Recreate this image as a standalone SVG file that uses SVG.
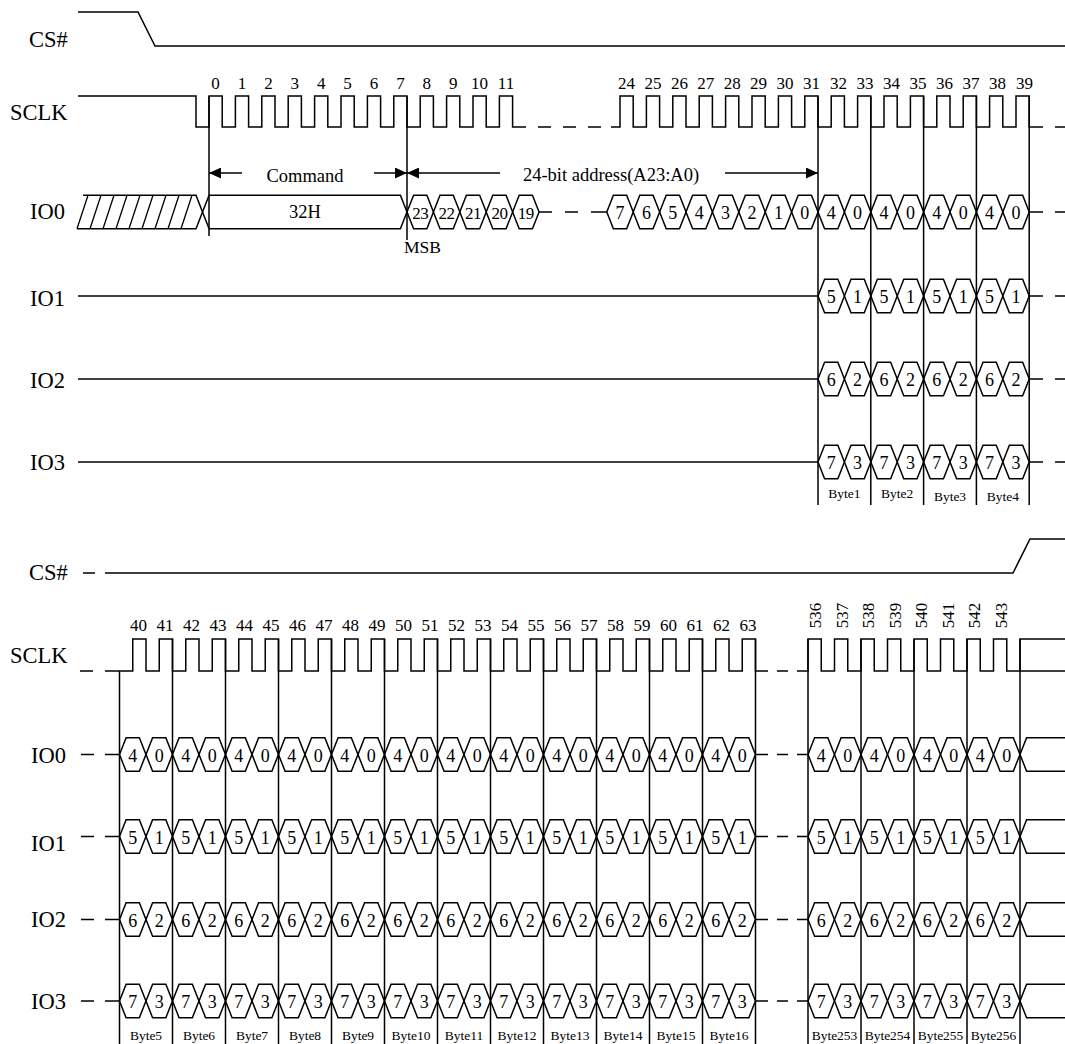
<svg xmlns="http://www.w3.org/2000/svg" xmlns:xlink="http://www.w3.org/1999/xlink" width="1065" height="1044" viewBox="0 0 1065 1044">
<style>
.s{fill:none;stroke:#000;stroke-width:1.5}
.t{font-family:"Liberation Serif","Times New Roman",serif;fill:#000}
.lb{font-size:22.5px}
.n{font-size:17px;text-anchor:middle}
.d{font-size:18px;text-anchor:middle}
.dd{font-size:17px;text-anchor:middle;letter-spacing:-0.5px}
.a{font-size:18.5px;text-anchor:middle}
.b{font-size:13.5px;text-anchor:middle}
</style>
<defs>
<path id="hx" class="s" d="M0,0 L6.6,-16.75 H19.85 L26.45,0 L19.85,16.75 H6.6 Z"/>
<marker id="arr" viewBox="0 0 12 11" refX="12" refY="5.5" markerWidth="12" markerHeight="11" markerUnits="userSpaceOnUse" orient="auto-start-reverse"><path d="M0,0 L12,5.5 L0,11 Z" fill="#000"/></marker>
<g id="rowT">
<use href="#hx" x="818"/><use href="#hx" x="844.4"/><use href="#hx" x="870.8"/><use href="#hx" x="897.2"/><use href="#hx" x="923.6"/><use href="#hx" x="950"/><use href="#hx" x="976.4"/><use href="#hx" x="1002.8"/>
</g>
<g id="rowL">
<use href="#hx" x="119.5"/><use href="#hx" x="146"/><use href="#hx" x="172.5"/><use href="#hx" x="199"/><use href="#hx" x="225.5"/><use href="#hx" x="252"/><use href="#hx" x="278.5"/><use href="#hx" x="305"/><use href="#hx" x="331.5"/><use href="#hx" x="358"/><use href="#hx" x="384.5"/><use href="#hx" x="411"/><use href="#hx" x="437.5"/><use href="#hx" x="464"/><use href="#hx" x="490.5"/><use href="#hx" x="517"/><use href="#hx" x="543.5"/><use href="#hx" x="570"/><use href="#hx" x="596.5"/><use href="#hx" x="623"/><use href="#hx" x="649.5"/><use href="#hx" x="676"/><use href="#hx" x="702.5"/><use href="#hx" x="729"/>
</g>
<g id="rowR">
<use href="#hx" x="808"/><use href="#hx" x="834.5"/><use href="#hx" x="861"/><use href="#hx" x="887.5"/><use href="#hx" x="914"/><use href="#hx" x="940.5"/><use href="#hx" x="967"/><use href="#hx" x="993.5"/>
</g>
<path id="tailT" class="s" d="M1029.2,0 H1043 M1055,0 H1065"/>
<path id="midB" class="s" d="M81,0 H94 M105,0 H119.5 M755.5,0 H768 M777,0 H788 M797,0 H808 M1065,-16.75 H1026.6 L1020,0 L1026.6,16.75 H1065"/>
</defs>
<rect width="1065" height="1044" fill="#fff"/>

<!-- ===== TOP SECTION ===== -->
<g id="cs-top">
<text class="t lb" x="29" y="47">CS#</text>
<path class="s" d="M78,12 H138 L155,46 H1065"/>
</g>

<g id="sclk-top">
<text class="t lb" x="10" y="120">SCLK</text>
<path class="s" d="M78,96 H196 V127 H209 V96 H222.2 V127 H235.4 V96 H248.6 V127 H261.8 V96 H275 V127 H288.2 V96 H301.4 V127 H314.6 V96 H327.8 V127 H341 V96 H354.2 V127 H367.4 V96 H380.6 V127 H393.8 V96 H407 V127 H420.2 V96 H433.4 V127 H446.6 V96 H459.8 V127 H473 V96 H486.2 V127 H499.4 V96 H512.6 V127 H526"/>
<path class="s" d="M538,127 H551 M563,127 H576 M588,127 H601"/>
<path class="s" d="M611,127 H620 V96 H633.2 V127 H646.4 V96 H659.6 V127 H672.8 V96 H686 V127 H699.2 V96 H712.4 V127 H725.6 V96 H738.8 V127 H752 V96 H765.2 V127 H778.4 V96 H791.6 V127 H804.8 V96 H818 V127 H831.2 V96 H844.4 V127 H857.6 V96 H870.8 V127 H884 V96 H897.2 V127 H910.4 V96 H923.6 V127 H936.8 V96 H950 V127 H963.2 V96 H976.4 V127 H989.6 V96 H1002.8 V127 H1016 V96 H1029.2 V127 H1043 M1055,127 H1065"/>
<text class="t n" x="215.6" y="89">0</text><text class="t n" x="242" y="89">1</text><text class="t n" x="268.4" y="89">2</text><text class="t n" x="294.8" y="89">3</text><text class="t n" x="321.2" y="89">4</text><text class="t n" x="347.6" y="89">5</text><text class="t n" x="374" y="89">6</text><text class="t n" x="400.4" y="89">7</text><text class="t n" x="426.8" y="89">8</text><text class="t n" x="453.2" y="89">9</text><text class="t n" x="479.6" y="89">10</text><text class="t n" x="506" y="89">11</text>
<text class="t n" x="626.6" y="89">24</text><text class="t n" x="653" y="89">25</text><text class="t n" x="679.4" y="89">26</text><text class="t n" x="705.8" y="89">27</text><text class="t n" x="732.2" y="89">28</text><text class="t n" x="758.6" y="89">29</text><text class="t n" x="785" y="89">30</text><text class="t n" x="811.4" y="89">31</text><text class="t n" x="838.5" y="89">32</text><text class="t n" x="865" y="89">33</text><text class="t n" x="891.5" y="89">34</text><text class="t n" x="918" y="89">35</text><text class="t n" x="944.5" y="89">36</text><text class="t n" x="971" y="89">37</text><text class="t n" x="997.5" y="89">38</text><text class="t n" x="1024.5" y="89">39</text>
</g>

<g id="io0-top">
<text class="t lb" x="30" y="219">IO0</text>
<path class="s" d="M83,195.25 H196 L202.5,212 L196,228.75 H77"/>
<path class="s" style="stroke-width:1.3" d="M77,228.75 L88,195.25 M90,228.75 L101,195.25 M103,228.75 L114,195.25 M116,228.75 L127,195.25 M129,228.75 L140,195.25 M142,228.75 L153,195.25 M155,228.75 L166,195.25 M168,228.75 L179,195.25 M181,228.75 L192,195.25"/>
<path class="s" d="M202.5,212 L209.1,195.25 H400.4 L407,212 L400.4,228.75 H209.1 Z"/>
<text class="t a" x="305" y="218">32H</text>
<g transform="translate(0,212)">
<use href="#hx" x="407"/><use href="#hx" x="433.4"/><use href="#hx" x="459.8"/><use href="#hx" x="486.2"/><use href="#hx" x="512.6"/>
<use href="#hx" x="606.8"/><use href="#hx" x="633.2"/><use href="#hx" x="659.6"/><use href="#hx" x="686"/><use href="#hx" x="712.4"/><use href="#hx" x="738.8"/><use href="#hx" x="765.2"/><use href="#hx" x="791.6"/>
<use href="#rowT"/><use href="#tailT"/>
</g>
<path class="s" d="M539,212 H552 M565,212 H578 M591,212 H606.8"/>
<text class="t dd" x="420.2" y="219">23</text><text class="t dd" x="446.6" y="219">22</text><text class="t dd" x="473" y="219">21</text><text class="t dd" x="499.4" y="219">20</text><text class="t dd" x="525.8" y="219">19</text>
<text class="t d" x="620" y="219">7</text><text class="t d" x="646.4" y="219">6</text><text class="t d" x="672.8" y="219">5</text><text class="t d" x="699.2" y="219">4</text><text class="t d" x="725.6" y="219">3</text><text class="t d" x="752" y="219">2</text><text class="t d" x="778.4" y="219">1</text><text class="t d" x="804.8" y="219">0</text>
<text class="t d" x="831.2" y="219">4</text><text class="t d" x="857.6" y="219">0</text><text class="t d" x="884" y="219">4</text><text class="t d" x="910.4" y="219">0</text><text class="t d" x="936.8" y="219">4</text><text class="t d" x="963.2" y="219">0</text><text class="t d" x="989.6" y="219">4</text><text class="t d" x="1016" y="219">0</text>
<text class="t" style="font-size:17.5px" x="404" y="253">MSB</text>
</g>

<g id="io1-top">
<text class="t lb" x="30" y="306">IO1</text>
<path class="s" d="M78,296 H818"/>
<g transform="translate(0,296)"><use href="#rowT"/><use href="#tailT"/></g>
<text class="t d" x="831.2" y="303">5</text><text class="t d" x="857.6" y="303">1</text><text class="t d" x="884" y="303">5</text><text class="t d" x="910.4" y="303">1</text><text class="t d" x="936.8" y="303">5</text><text class="t d" x="963.2" y="303">1</text><text class="t d" x="989.6" y="303">5</text><text class="t d" x="1016" y="303">1</text>
</g>

<g id="io2-top">
<text class="t lb" x="30" y="388">IO2</text>
<path class="s" d="M78,379 H818"/>
<g transform="translate(0,379)"><use href="#rowT"/><use href="#tailT"/></g>
<text class="t d" x="831.2" y="386">6</text><text class="t d" x="857.6" y="386">2</text><text class="t d" x="884" y="386">6</text><text class="t d" x="910.4" y="386">2</text><text class="t d" x="936.8" y="386">6</text><text class="t d" x="963.2" y="386">2</text><text class="t d" x="989.6" y="386">6</text><text class="t d" x="1016" y="386">2</text>
</g>

<g id="io3-top">
<text class="t lb" x="30" y="470">IO3</text>
<path class="s" d="M78,462 H818"/>
<g transform="translate(0,462)"><use href="#rowT"/><use href="#tailT"/></g>
<text class="t d" x="831.2" y="469">7</text><text class="t d" x="857.6" y="469">3</text><text class="t d" x="884" y="469">7</text><text class="t d" x="910.4" y="469">3</text><text class="t d" x="936.8" y="469">7</text><text class="t d" x="963.2" y="469">3</text><text class="t d" x="989.6" y="469">7</text><text class="t d" x="1016" y="469">3</text>
</g>

<g id="bytes-top">
<text class="t b" x="844.4" y="498">Byte1</text><text class="t b" x="897.2" y="498">Byte2</text><text class="t b" x="950" y="501">Byte3</text><text class="t b" x="1002.8" y="501">Byte4</text>
</g>

<!-- ===== BOTTOM SECTION ===== -->
<g id="cs-bot">
<text class="t lb" x="29" y="580">CS#</text>
<path class="s" d="M83,573 H95 M105,573 H1013 L1030,539 H1065"/>
</g>

<g id="sclk-bot">
<text class="t lb" x="10" y="663">SCLK</text>
<path class="s" d="M80,671 H93 M105,671 H132.75 V639 H146 V671 H159.25 V639 H172.5 V671 H185.75 V639 H199 V671 H212.25 V639 H225.5 V671 H238.75 V639 H252 V671 H265.25 V639 H278.5 V671 H291.75 V639 H305 V671 H318.25 V639 H331.5 V671 H344.75 V639 H358 V671 H371.25 V639 H384.5 V671 H397.75 V639 H411 V671 H424.25 V639 H437.5 V671 H450.75 V639 H464 V671 H477.25 V639 H490.5 V671 H503.75 V639 H517 V671 H530.25 V639 H543.5 V671 H556.75 V639 H570 V671 H583.25 V639 H596.5 V671 H609.75 V639 H623 V671 H636.25 V639 H649.5 V671 H662.75 V639 H676 V671 H689.25 V639 H702.5 V671 H715.75 V639 H729 V671 H742.25 V639 H755.5 V671 H768 M777,671 H788"/>
<path class="s" d="M797,671 H808 V639 H821.25 V671 H834.5 V639 H847.75 V671 H861 V639 H874.25 V671 H887.5 V639 H900.75 V671 H914 V639 H927.25 V671 H940.5 V639 H953.75 V671 H967 V639 H980.25 V671 H993.5 V639 H1006.75 V671 H1065 M1020,671 V639 H1065"/>
<text class="t n" x="138.4" y="631">40</text><text class="t n" x="164.9" y="631">41</text><text class="t n" x="191.4" y="631">42</text><text class="t n" x="217.9" y="631">43</text><text class="t n" x="244.4" y="631">44</text><text class="t n" x="270.9" y="631">45</text><text class="t n" x="297.4" y="631">46</text><text class="t n" x="323.9" y="631">47</text><text class="t n" x="350.4" y="631">48</text><text class="t n" x="376.9" y="631">49</text><text class="t n" x="403.4" y="631">50</text><text class="t n" x="429.9" y="631">51</text><text class="t n" x="456.4" y="631">52</text><text class="t n" x="482.9" y="631">53</text><text class="t n" x="509.4" y="631">54</text><text class="t n" x="535.9" y="631">55</text><text class="t n" x="562.4" y="631">56</text><text class="t n" x="588.9" y="631">57</text><text class="t n" x="615.4" y="631">58</text><text class="t n" x="641.9" y="631">59</text><text class="t n" x="668.4" y="631">60</text><text class="t n" x="694.9" y="631">61</text><text class="t n" x="721.4" y="631">62</text><text class="t n" x="747.9" y="631">63</text>
<text class="t n" transform="translate(821,615.5) rotate(-90)">536</text><text class="t n" transform="translate(847.5,615.5) rotate(-90)">537</text><text class="t n" transform="translate(874,615.5) rotate(-90)">538</text><text class="t n" transform="translate(900.5,615.5) rotate(-90)">539</text><text class="t n" transform="translate(927,615.5) rotate(-90)">540</text><text class="t n" transform="translate(953.5,615.5) rotate(-90)">541</text><text class="t n" transform="translate(980,615.5) rotate(-90)">542</text><text class="t n" transform="translate(1006.5,615.5) rotate(-90)">543</text>
</g>

<g id="io0-bot">
<text class="t lb" x="31" y="763">IO0</text>
<g transform="translate(0,754.5)"><use href="#midB"/><use href="#rowL"/><use href="#rowR"/></g>
<text class="t d" x="132.75" y="761.5">4</text><text class="t d" x="159.25" y="761.5">0</text><text class="t d" x="185.75" y="761.5">4</text><text class="t d" x="212.25" y="761.5">0</text><text class="t d" x="238.75" y="761.5">4</text><text class="t d" x="265.25" y="761.5">0</text><text class="t d" x="291.75" y="761.5">4</text><text class="t d" x="318.25" y="761.5">0</text><text class="t d" x="344.75" y="761.5">4</text><text class="t d" x="371.25" y="761.5">0</text><text class="t d" x="397.75" y="761.5">4</text><text class="t d" x="424.25" y="761.5">0</text><text class="t d" x="450.75" y="761.5">4</text><text class="t d" x="477.25" y="761.5">0</text><text class="t d" x="503.75" y="761.5">4</text><text class="t d" x="530.25" y="761.5">0</text><text class="t d" x="556.75" y="761.5">4</text><text class="t d" x="583.25" y="761.5">0</text><text class="t d" x="609.75" y="761.5">4</text><text class="t d" x="636.25" y="761.5">0</text><text class="t d" x="662.75" y="761.5">4</text><text class="t d" x="689.25" y="761.5">0</text><text class="t d" x="715.75" y="761.5">4</text><text class="t d" x="742.25" y="761.5">0</text>
<text class="t d" x="821.25" y="761.5">4</text><text class="t d" x="847.75" y="761.5">0</text><text class="t d" x="874.25" y="761.5">4</text><text class="t d" x="900.75" y="761.5">0</text><text class="t d" x="927.25" y="761.5">4</text><text class="t d" x="953.75" y="761.5">0</text><text class="t d" x="980.25" y="761.5">4</text><text class="t d" x="1006.75" y="761.5">0</text>
</g>

<g id="io1-bot">
<text class="t lb" x="31" y="851">IO1</text>
<g transform="translate(0,836.5)"><use href="#midB"/><use href="#rowL"/><use href="#rowR"/></g>
<text class="t d" x="132.75" y="843.5">5</text><text class="t d" x="159.25" y="843.5">1</text><text class="t d" x="185.75" y="843.5">5</text><text class="t d" x="212.25" y="843.5">1</text><text class="t d" x="238.75" y="843.5">5</text><text class="t d" x="265.25" y="843.5">1</text><text class="t d" x="291.75" y="843.5">5</text><text class="t d" x="318.25" y="843.5">1</text><text class="t d" x="344.75" y="843.5">5</text><text class="t d" x="371.25" y="843.5">1</text><text class="t d" x="397.75" y="843.5">5</text><text class="t d" x="424.25" y="843.5">1</text><text class="t d" x="450.75" y="843.5">5</text><text class="t d" x="477.25" y="843.5">1</text><text class="t d" x="503.75" y="843.5">5</text><text class="t d" x="530.25" y="843.5">1</text><text class="t d" x="556.75" y="843.5">5</text><text class="t d" x="583.25" y="843.5">1</text><text class="t d" x="609.75" y="843.5">5</text><text class="t d" x="636.25" y="843.5">1</text><text class="t d" x="662.75" y="843.5">5</text><text class="t d" x="689.25" y="843.5">1</text><text class="t d" x="715.75" y="843.5">5</text><text class="t d" x="742.25" y="843.5">1</text>
<text class="t d" x="821.25" y="843.5">5</text><text class="t d" x="847.75" y="843.5">1</text><text class="t d" x="874.25" y="843.5">5</text><text class="t d" x="900.75" y="843.5">1</text><text class="t d" x="927.25" y="843.5">5</text><text class="t d" x="953.75" y="843.5">1</text><text class="t d" x="980.25" y="843.5">5</text><text class="t d" x="1006.75" y="843.5">1</text>
</g>

<g id="io2-bot">
<text class="t lb" x="31" y="927">IO2</text>
<g transform="translate(0,919.5)"><use href="#midB"/><use href="#rowL"/><use href="#rowR"/></g>
<text class="t d" x="132.75" y="926.5">6</text><text class="t d" x="159.25" y="926.5">2</text><text class="t d" x="185.75" y="926.5">6</text><text class="t d" x="212.25" y="926.5">2</text><text class="t d" x="238.75" y="926.5">6</text><text class="t d" x="265.25" y="926.5">2</text><text class="t d" x="291.75" y="926.5">6</text><text class="t d" x="318.25" y="926.5">2</text><text class="t d" x="344.75" y="926.5">6</text><text class="t d" x="371.25" y="926.5">2</text><text class="t d" x="397.75" y="926.5">6</text><text class="t d" x="424.25" y="926.5">2</text><text class="t d" x="450.75" y="926.5">6</text><text class="t d" x="477.25" y="926.5">2</text><text class="t d" x="503.75" y="926.5">6</text><text class="t d" x="530.25" y="926.5">2</text><text class="t d" x="556.75" y="926.5">6</text><text class="t d" x="583.25" y="926.5">2</text><text class="t d" x="609.75" y="926.5">6</text><text class="t d" x="636.25" y="926.5">2</text><text class="t d" x="662.75" y="926.5">6</text><text class="t d" x="689.25" y="926.5">2</text><text class="t d" x="715.75" y="926.5">6</text><text class="t d" x="742.25" y="926.5">2</text>
<text class="t d" x="821.25" y="926.5">6</text><text class="t d" x="847.75" y="926.5">2</text><text class="t d" x="874.25" y="926.5">6</text><text class="t d" x="900.75" y="926.5">2</text><text class="t d" x="927.25" y="926.5">6</text><text class="t d" x="953.75" y="926.5">2</text><text class="t d" x="980.25" y="926.5">6</text><text class="t d" x="1006.75" y="926.5">2</text>
</g>

<g id="io3-bot">
<text class="t lb" x="31" y="1009">IO3</text>
<g transform="translate(0,1001)"><use href="#midB"/><use href="#rowL"/><use href="#rowR"/></g>
<text class="t d" x="132.75" y="1008">7</text><text class="t d" x="159.25" y="1008">3</text><text class="t d" x="185.75" y="1008">7</text><text class="t d" x="212.25" y="1008">3</text><text class="t d" x="238.75" y="1008">7</text><text class="t d" x="265.25" y="1008">3</text><text class="t d" x="291.75" y="1008">7</text><text class="t d" x="318.25" y="1008">3</text><text class="t d" x="344.75" y="1008">7</text><text class="t d" x="371.25" y="1008">3</text><text class="t d" x="397.75" y="1008">7</text><text class="t d" x="424.25" y="1008">3</text><text class="t d" x="450.75" y="1008">7</text><text class="t d" x="477.25" y="1008">3</text><text class="t d" x="503.75" y="1008">7</text><text class="t d" x="530.25" y="1008">3</text><text class="t d" x="556.75" y="1008">7</text><text class="t d" x="583.25" y="1008">3</text><text class="t d" x="609.75" y="1008">7</text><text class="t d" x="636.25" y="1008">3</text><text class="t d" x="662.75" y="1008">7</text><text class="t d" x="689.25" y="1008">3</text><text class="t d" x="715.75" y="1008">7</text><text class="t d" x="742.25" y="1008">3</text>
<text class="t d" x="821.25" y="1008">7</text><text class="t d" x="847.75" y="1008">3</text><text class="t d" x="874.25" y="1008">7</text><text class="t d" x="900.75" y="1008">3</text><text class="t d" x="927.25" y="1008">7</text><text class="t d" x="953.75" y="1008">3</text><text class="t d" x="980.25" y="1008">7</text><text class="t d" x="1006.75" y="1008">3</text>
</g>

<g id="bytes-bot">
<text class="t b" x="146" y="1040">Byte5</text><text class="t b" x="199" y="1040">Byte6</text><text class="t b" x="252" y="1040">Byte7</text><text class="t b" x="305" y="1040">Byte8</text><text class="t b" x="358" y="1040">Byte9</text><text class="t b" x="411" y="1040">Byte10</text><text class="t b" x="464" y="1040">Byte11</text><text class="t b" x="517" y="1040">Byte12</text><text class="t b" x="570" y="1040">Byte13</text><text class="t b" x="623" y="1040">Byte14</text><text class="t b" x="676" y="1040">Byte15</text><text class="t b" x="729" y="1040">Byte16</text>
<text class="t b" x="834.5" y="1040">Byte253</text><text class="t b" x="887.5" y="1040">Byte254</text><text class="t b" x="940.5" y="1040">Byte255</text><text class="t b" x="993.5" y="1040">Byte256</text>
</g>

<!-- ===== CONNECTORS: markers, arrows ===== -->
<g id="connectors">
<path class="s" d="M209,96 V236 M407,96 V240 M818,96 V505 M870.8,96 V505 M923.6,96 V505 M976.4,96 V505 M1029.2,96 V505"/>
<path class="s" d="M119.5,671 V1044 M172.5,639 V1044 M225.5,639 V1044 M278.5,639 V1044 M331.5,639 V1044 M384.5,639 V1044 M437.5,639 V1044 M490.5,639 V1044 M543.5,639 V1044 M596.5,639 V1044 M649.5,639 V1044 M702.5,639 V1044 M755.5,639 V1044 M808,639 V1044 M861,639 V1044 M914,639 V1044 M967,639 V1044 M1020,639 V1044"/>
<path class="s" d="M209,173 H242" marker-start="url(#arr)"/>
<path class="s" d="M374,173 H407" marker-end="url(#arr)"/>
<path class="s" d="M407,173 H500" marker-start="url(#arr)"/>
<path class="s" d="M725,173 H818" marker-end="url(#arr)"/>
<text class="t a" x="305" y="182">Command</text>
<text class="t a" x="611" y="181">24-bit address(A23:A0)</text>
</g>
</svg>
